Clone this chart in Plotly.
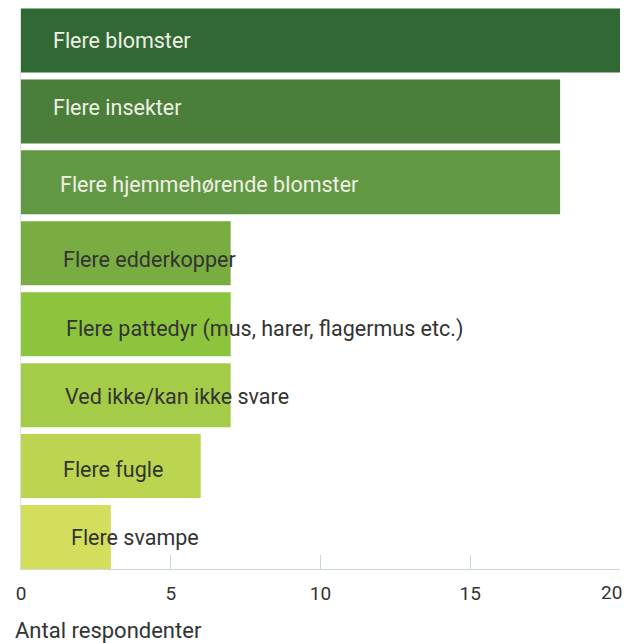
import plotly.graph_objects as go

kategorier = ['Flere blomster', 'Flere insekter', 'Flere hjemmehørende blomster',
              'Flere edderkopper', 'Flere pattedyr (mus, harer, flagermus etc.)',
              'Ved ikke/kan ikke svare', 'Flere fugle', 'Flere svampe']
antal = [20, 18, 18, 7, 7, 7, 6, 3]
x_ticks = [0, 5, 10, 15, 20]

farver = ['#316934', '#4a7e3a', '#629843', '#79ad41', '#8dc43e', '#a5cc48', '#bbd550', '#d4de5d']
tekstfarver = ['#eef0e6', '#eef0e6', '#eef0e6', '#333333', '#333333', '#333333', '#333333', '#333333']
# små forskydninger af etiketterne (px) som i originalen
x_shift = [30, 30, 37, 40, 43, 42, 40, 48]
y_shift = [0, 4, -2.5, -6, -4.5, -1.5, -3, -0.5]

fig = go.Figure(go.Bar(
    x=antal, y=kategorier, orientation='h',
    marker=dict(color=farver, line=dict(width=0)),
    hoverinfo='x+y',
))

for i, k in enumerate(kategorier):
    fig.add_annotation(x=0, y=k, text=k, showarrow=False, xanchor='left',
                       xshift=x_shift[i], yshift=y_shift[i],
                       font=dict(size=21.5, color=tekstfarver[i], family='Roboto'))

# sidste tick-etiket som annotation, så den ikke klippes i højre kant
fig.add_annotation(x=x_ticks[-1], y=0, yref='paper', text=str(x_ticks[-1]), showarrow=False,
                   xanchor='right', yanchor='middle', xshift=4, yshift=-23,
                   font=dict(size=19, color='#333333', family='Roboto'))

fig.add_annotation(x=0, y=0, xref='paper', yref='paper', text='Antal respondenter',
                   showarrow=False, xanchor='left', yanchor='middle', xshift=-8, yshift=-61,
                   font=dict(size=22, color='#333333', family='Roboto'))

fig.update_layout(
    width=625, height=635,
    margin=dict(l=13, r=13, t=0, b=74),
    plot_bgcolor='white', paper_bgcolor='white',
    bargap=0.098, showlegend=False,
    font=dict(family='Roboto', color='#333333'),
)
fig.update_xaxes(range=[0, 20], tickvals=x_ticks,
                 ticktext=[str(t) for t in x_ticks[:-1]] + [''],
                 showgrid=False, zeroline=False,
                 showline=True, linecolor='#c9d8d8', linewidth=1,
                 ticks='inside', ticklen=14, tickcolor='#c9d8d8', tickfont=dict(size=19),
                 ticklabelstandoff=7, fixedrange=True)
fig.update_yaxes(range=[7.451, -0.458], showticklabels=False, showgrid=False, zeroline=False,
                 showline=True, linecolor='#d8e2e4', linewidth=1, fixedrange=True)

fig.write_html("out.html")
